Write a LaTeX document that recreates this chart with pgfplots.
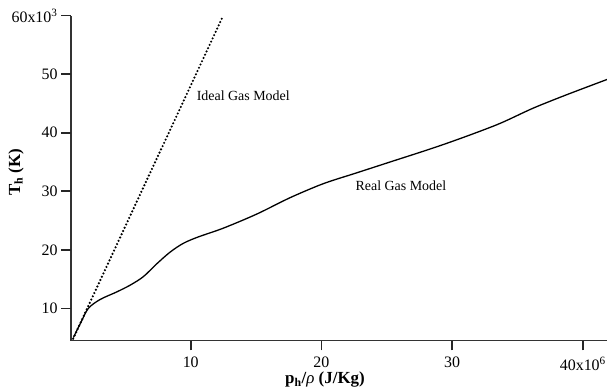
\documentclass[border=0pt]{standalone}
\usepackage{pgfplots}
\pgfplotsset{compat=1.18}
\usepackage{fontspec}
\setmainfont{Liberation Serif}
\begin{document}
\begin{tikzpicture}
\begin{axis}[
  name=ax,
  at={(0,0)}, anchor=south west,
  scale only axis,
  width=536bp, height=324.8bp,
  xmin=0.84, xmax=41.85,
  ymin=4.5, ymax=60,
  axis lines=left,
  axis line style={-, line width=1.5pt, black!80},
  tick align=outside,
  tickwidth=10pt,
  tick style={black!85, line width=1.6pt},
  xtick={10,20,30,40},
  xticklabels={10,20,30,{40x10\textsuperscript{6}}},
  ytick={10,20,30,40,50,60},
  yticklabels={10,20,30,40,50,{60x10\textsuperscript{3}}},
  ticklabel style={font=\fontsize{16}{18}\selectfont},
  xticklabel style={yshift=-3pt},
  clip=false,
]
\pgfplotsinvokeforeach{10,20,30,40}{
  \draw[black!85, line width=1.6pt] (axis cs:#1,4.5) -- (axis cs:#1,2.8);
}
\pgfplotsinvokeforeach{10,20,30,40,50,60}{
  \draw[black!85, line width=1.6pt] (axis cs:0.84,#1) -- (axis cs:0.075,#1);
}
\addplot[black, line width=2.4bp, line cap=round, dash pattern=on 0pt off 3.6bp] coordinates {
(1.0,4.8) (12.4,59.6)
};
\addplot[black, line width=1.3bp, smooth, tension=0.5] coordinates {
(1.02,5.0) (1.6,7.6) (2.17,10.0) (3.06,11.5) (4.34,12.8) (5.36,13.95)
(6.37,15.4) (7.40,17.6) (8.42,19.6) (9.43,21.1) (10.58,22.2)
(12.5,23.7) (15.05,26.1) (17.6,28.9) (20.15,31.3) (22.7,33.15)
(25.25,35.0) (28.56,37.4) (31.1,39.4) (33.67,41.6) (36.2,44.2)
(38.77,46.5) (41.85,49.1)
};
\node[anchor=west, inner sep=0pt, font=\fontsize{14}{16}\selectfont] at (axis cs:10.45,46.4) {Ideal Gas Model};
\node[anchor=west, inner sep=0pt, font=\fontsize{14}{16}\selectfont] at (axis cs:22.6,31.0) {Real Gas Model};
\end{axis}
\node[rotate=90, font=\fontsize{17}{19}\selectfont\bfseries] at ([xshift=-55bp,yshift=6bp]ax.west) {T\textsubscript{h} (K)};
\node[font=\fontsize{17}{19}\selectfont\bfseries] at ([xshift=254bp,yshift=-39bp]ax.south west) {p\textsubscript{h}/\textit{\mdseries ρ} (J/Kg)};
\pgfresetboundingbox
\useasboundingbox ([xshift=-71bp,yshift=-47.5bp]ax.south west) rectangle ([yshift=15.7bp]ax.north east);
\end{tikzpicture}
\end{document}
